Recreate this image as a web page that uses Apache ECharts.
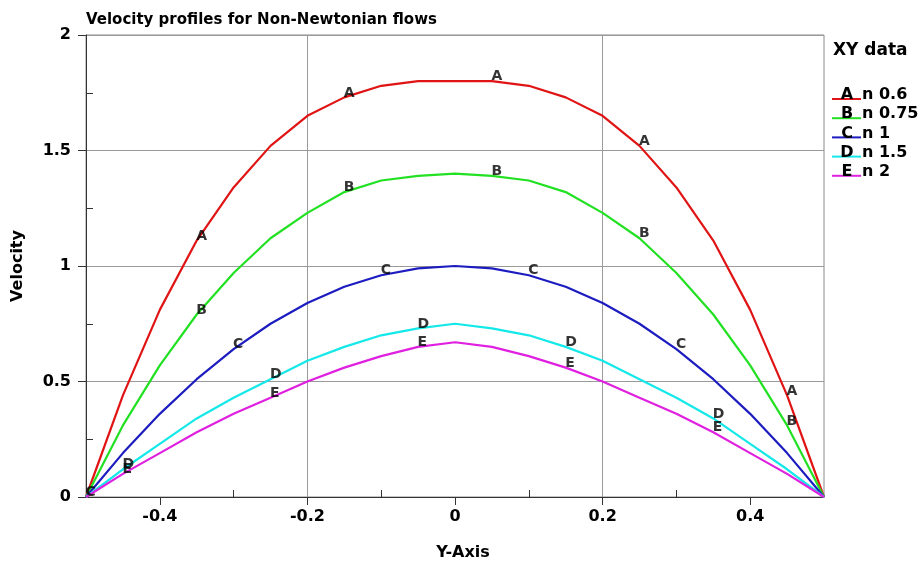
<!DOCTYPE html>
<html>
<head>
<meta charset="utf-8">
<title>Velocity profiles for Non-Newtonian flows</title>
<script src="https://cdn.jsdelivr.net/npm/echarts@6/dist/echarts.min.js"></script>
<style>
    html, body { margin: 0; padding: 0; background: #fff; }
    #chart { width: 923px; height: 562px; }
</style>
</head>
<body>
<div id="chart"></div>
<script>
'use strict';

/****************************************************************
 *          Velocity profiles for Non-Newtonian flows            *
 ****************************************************************/

// position across the channel (x axis)
var positions = [-0.5, -0.45, -0.4, -0.35, -0.3, -0.25, -0.2, -0.15, -0.1, -0.05, 0,
    0.05, 0.1, 0.15, 0.2, 0.25, 0.3, 0.35, 0.4, 0.45, 0.5];

// velocity
var velocityA = [0, 0.44, 0.81, 1.11, 1.34, 1.52, 1.65, 1.73, 1.78, 1.80, 1.80,
    1.80, 1.78, 1.73, 1.65, 1.52, 1.34, 1.11, 0.81, 0.44, 0];
var velocityB = [0, 0.31, 0.57, 0.79, 0.97, 1.12, 1.23, 1.32, 1.37, 1.39, 1.40,
    1.39, 1.37, 1.32, 1.23, 1.12, 0.97, 0.79, 0.57, 0.31, 0];
var velocityC = [0, 0.19, 0.36, 0.51, 0.64, 0.75, 0.84, 0.91, 0.96, 0.99, 1.00,
    0.99, 0.96, 0.91, 0.84, 0.75, 0.64, 0.51, 0.36, 0.19, 0];
var velocityD = [0, 0.12, 0.23, 0.34, 0.43, 0.51, 0.59, 0.65, 0.70, 0.73, 0.75,
    0.73, 0.70, 0.65, 0.59, 0.51, 0.43, 0.34, 0.23, 0.12, 0];
var velocityE = [0, 0.10, 0.19, 0.28, 0.36, 0.43, 0.50, 0.56, 0.61, 0.65, 0.67,
    0.65, 0.61, 0.56, 0.50, 0.43, 0.36, 0.28, 0.19, 0.10, 0];

// which points carry the series letter
var labelIdxA = [3, 7, 11, 15, 19];
var labelIdxB = [3, 7, 11, 15, 19];
var labelIdxC = [0, 4, 8, 12, 16];
var labelIdxD = [1, 5, 9, 13, 17];
var labelIdxE = [1, 5, 9, 13, 17];

var letters = ['A', 'B', 'C', 'D', 'E'];
var nValues = ['0.6', '0.75', '1', '1.5', '2'];
var colors = ['#e01414', '#22e022', '#1c1cc0', '#14e8e8', '#e020e0'];

// tick labels
var xMajorTicks = [-0.4, -0.2, 0, 0.2, 0.4];
var xMinorTicks = [-0.3, -0.1, 0.1, 0.3];
var yMinorTicks = [0.25, 0.75, 1.25, 1.75];

(function (echarts) {

    var FONT = '"DejaVu Sans", sans-serif';
    var profiles = [velocityA, velocityB, velocityC, velocityD, velocityE];
    var labelIdx = [labelIdxA, labelIdxB, labelIdxC, labelIdxD, labelIdxE];

    var series = [];

    // profile lines
    profiles.forEach(function (values, i) {
        series.push({
            name: letters[i] + ' n ' + nValues[i],
            type: 'line',
            showSymbol: false,
            symbol: 'none',
            animation: false,
            lineStyle: { color: colors[i], width: 2.2 },
            data: positions.map(function (x, k) { return [x, values[k]]; })
        });
    });

    // letters along the lines
    profiles.forEach(function (values, i) {
        series.push({
            type: 'scatter',
            symbolSize: 1,
            animation: false,
            silent: true,
            z: 5,
            itemStyle: { color: 'rgba(0,0,0,0)' },
            label: {
                show: true,
                formatter: letters[i],
                position: [0, 0],
                align: 'left',
                verticalAlign: 'bottom',
                offset: [0, 3],
                color: '#000',
                fontFamily: FONT,
                fontWeight: 'bold',
                fontSize: 14
            },
            data: labelIdx[i].map(function (k) { return [positions[k], values[k]]; })
        });
    });

    // hand made legend: coloured line under the letter
    var legend = [{
        type: 'text',
        x: 833, y: 51,
        style: { text: 'XY data', font: 'bold 17px ' + FONT, fill: '#000', verticalAlign: 'middle' }
    }];
    letters.forEach(function (letter, i) {
        var y = 99 + i * 19.2;
        legend.push({
            type: 'line',
            shape: { x1: 832, y1: y, x2: 861, y2: y },
            style: { stroke: colors[i], lineWidth: 2 }
        });
        legend.push({
            type: 'text', x: 847, y: y + 4,
            style: { text: letter, font: 'bold 16px ' + FONT, fill: '#000', align: 'center', verticalAlign: 'bottom' }
        });
        legend.push({
            type: 'text', x: 862, y: y + 4,
            style: { text: 'n ' + nValues[i], font: 'bold 16px ' + FONT, fill: '#000', verticalAlign: 'bottom' }
        });
    });

    var tickLabel = { color: '#000', fontFamily: FONT, fontWeight: 'bold', fontSize: 16 };
    var nameStyle = { color: '#000', fontFamily: FONT, fontWeight: 'bold', fontSize: 16 };

    var chart = echarts.init(document.getElementById('chart'), null, { renderer: 'canvas' });
    chart.setOption({
        animation: false,
        backgroundColor: '#fff',
        title: {
            text: 'Velocity profiles for Non-Newtonian flows',
            left: 86, top: 13, padding: 0,
            textStyle: { color: '#000', fontFamily: FONT, fontWeight: 'bold', fontSize: 15 }
        },
        grid: {
            left: 86, right: 99, top: 35, bottom: 65,
            outerBoundsMode: 'none',
            containLabel: false,
            show: true, borderColor: '#8a8a8a', borderWidth: 1
        },
        xAxis: [{
            type: 'value',
            min: -0.5, max: 0.5, interval: 0.1,
            name: 'Y-Axis',
            nameLocation: 'middle',
            nameGap: 48,
            nameTextStyle: Object.assign({ padding: [0, 0, 0, 16] }, nameStyle),
            axisLine: { onZero: false, lineStyle: { color: '#333', width: 1 } },
            axisTick: { customValues: xMajorTicks, length: 8, lineStyle: { color: '#333' } },
            axisLabel: Object.assign({ customValues: xMajorTicks, margin: 12 }, tickLabel),
            // grid lines only at the labelled values
            splitLine: { show: true, lineStyle: { color: ['rgba(0,0,0,0)', '#9a9a9a'], width: 1 } }
        }, {
            type: 'value',
            position: 'bottom',
            min: -0.5, max: 0.5, interval: 0.1,
            axisLine: { show: false, onZero: false },
            axisTick: { customValues: xMinorTicks, inside: true, length: 7, lineStyle: { color: '#333' } },
            axisLabel: { show: false },
            splitLine: { show: false }
        }],
        yAxis: [{
            type: 'value',
            min: 0, max: 2, interval: 0.5,
            name: 'Velocity',
            nameLocation: 'middle',
            nameGap: 60,
            nameTextStyle: nameStyle,
            axisLine: { show: true, onZero: false, lineStyle: { color: '#333', width: 1 } },
            axisTick: { show: true, length: 8, lineStyle: { color: '#333' } },
            axisLabel: Object.assign({ margin: 15 }, tickLabel),
            splitLine: { show: true, lineStyle: { color: '#9a9a9a', width: 1 } }
        }, {
            type: 'value',
            position: 'left',
            min: 0, max: 2, interval: 0.5,
            axisLine: { show: false, onZero: false },
            axisTick: { show: true, customValues: yMinorTicks, inside: true, length: 7, lineStyle: { color: '#333' } },
            axisLabel: { show: false },
            splitLine: { show: false }
        }],
        graphic: legend,
        series: series
    });

})(echarts);
</script>
</body>
</html>
